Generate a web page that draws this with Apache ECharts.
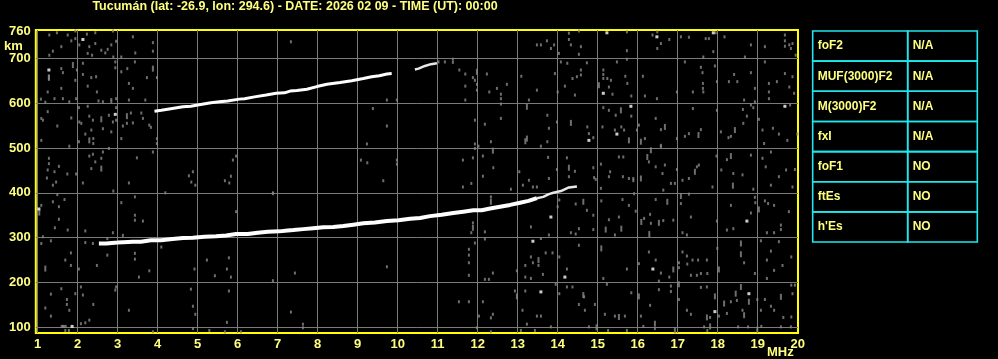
<!DOCTYPE html>
<html><head><meta charset="utf-8">
<script src="https://cdn.jsdelivr.net/npm/echarts@6/dist/echarts.min.js"></script>
<style>html,body{margin:0;padding:0;background:#000;}#c{width:998px;height:359px;}</style>
</head><body><div id="c"></div>
<script>
const titleText = 'Tucumán (lat: -26.9, lon: 294.6) - DATE: 2026 02 09 - TIME (UT): 00:00';
const freqTicks = [1,2,3,4,5,6,7,8,9,10,11,12,13,14,15,16,17,18,19,20];
const freqGrid = [1,2,3,4,5,6,7,8,9,10,11,12,13,14,15,16,17,18,19];
const heightTicks = [100,200,300,400,500,600,700,760];
const heightGrid = [100,200,300,400,500,600,700];
const tableNames = ['foF2','MUF(3000)F2','M(3000)F2','fxI','foF1','ftEs',"h'Es"];
const tableValues = ['N/A','N/A','N/A','N/A','NO','NO','NO'];

const lowerTrace = [[2.53,287],[2.71,287],[3.0,289],[3.14,290],[3.38,291],[3.58,291],[3.83,294],[4.08,294],[4.37,297],[4.63,299],[4.88,300],[5.17,302],[5.46,303],[5.71,305],[5.96,308],[6.25,308],[6.5,311],[6.75,313],[7.04,314],[7.25,316],[7.39,317],[7.64,319],[7.89,321],[8.14,323],[8.39,324],[8.64,326],[8.89,329],[9.14,332],[9.43,334],[9.73,337],[10.02,339],[10.31,342],[10.56,344],[10.81,348],[11.1,351],[11.39,355],[11.64,358],[11.89,361],[12.1,361],[12.31,365],[12.56,369],[12.81,373],[13.06,378],[13.27,382],[13.48,388]];
const lowerTail = [[13.48,388],[13.64,391],[13.78,397],[13.89,400],[14.08,404],[14.28,412],[14.48,414]];
const upperTraceA = [[3.92,582],[4.09,584],[4.29,587],[4.63,592],[4.83,593],[5.0,596],[5.33,601],[5.54,603],[5.75,605],[6.04,609],[6.17,610],[6.42,614],[6.71,618],[6.96,622],[7.17,623],[7.31,627],[7.48,628],[7.73,631],[7.98,637],[8.23,642],[8.56,646],[8.85,650],[9.14,655],[9.35,659],[9.54,661],[9.73,665],[9.85,666]];
const upperTraceB = [[10.43,675],[10.52,677],[10.68,683],[10.83,687],[10.98,689]];

const whiteDots = [[2.13,742],[1.28,674],[2.94,575],[1.03,364],[1.86,102],[13.83,346],[14.18,212],[14.78,517],[15.14,622],[15.48,531],[15.23,757],[15.83,593],[16.48,748],[17.89,757],[16.38,230],[18.73,337],[17.93,135],[18.78,175],[19.68,593],[13.38,292],[13.58,179]];

const noise = [
[1.29,752],[1.48,757],[1.75,752],[1.94,761],[2.23,754],[2.44,757],[1.59,726],[1.84,739],[1.38,716],[1.29,707],[1.94,744],[2.29,726],[2.44,733],[2.59,718],[2.75,720],[2.84,730],[2.89,703],[2.36,707],[2.25,711],[2.96,738],[2.88,761],[3.38,748],[3.88,735],[3.88,716],[3.44,712],[3.09,703],[2.69,712],[2.04,730],
[1.59,677],[1.63,668],[2.13,689],[2.13,664],[1.94,651],[1.98,674],[1.59,633],[1.25,625],[1.08,609],[1.19,602],[1.42,610],[1.63,610],[1.79,603],[1.96,610],[2.25,638],[2.34,657],[2.46,659],[2.48,625],[2.52,605],[2.63,603],[2.84,608],[2.94,692],[2.94,679],[3.09,670],[3.24,677],[3.43,692],[3.28,644],[3.38,633],[3.73,657],[3.98,657],[3.28,607],[3.69,607],[2.96,610],[2.84,603],
[1.09,566],[1.13,562],[1.25,581],[1.49,549],[1.84,567],[2.04,558],[2.09,555],[2.03,590],[2.25,593],[2.29,571],[2.38,562],[2.34,540],[2.63,543],[2.19,531],[2.39,521],[2.39,510],[1.09,517],[1.79,504],[2.03,514],[2.78,573],[2.84,536],[2.88,558],[2.96,590],[2.96,562],[3.09,521],[3.13,549],[3.33,578],[3.23,555],[3.38,556],[3.59,578],[3.63,566],[3.79,551],[3.83,546],[3.98,521],[3.98,510],[2.78,499],
[1.28,477],[1.28,465],[1.53,459],[1.25,451],[1.23,433],[1.46,424],[1.38,417],[1.42,447],[1.74,442],[1.96,442],[2.13,422],[2.29,482],[2.38,486],[2.59,477],[2.34,454],[2.44,469],[2.63,491],[2.89,404],[3.28,422],[3.48,478],[3.88,491],[4.19,400],[4.78,438],[4.88,447],[4.84,424],[4.94,417],[5.68,427],[5.79,422],[5.83,437],[5.88,473],[5.96,482],[6.88,400],
[1.09,372],[1.38,380],[1.49,396],[1.67,385],[1.53,369],[1.53,341],[1.43,322],[1.75,317],[1.13,302],[2.19,315],[3.09,378],[3.43,391],[3.43,350],[3.43,339],[3.63,337],[2.88,311],[3.13,305],[5.96,358],[6.88,398],[2.19,289],[2.38,287],
[1.09,287],[1.33,293],[1.83,266],[1.69,250],[1.83,238],[2.03,230],[2.48,238],[2.74,261],[2.74,298],[3.43,265],[3.43,252],[3.53,212],[3.79,226],[4.09,279],[4.92,230],[5.23,250],[5.43,215],[5.73,230],[5.78,255],[5.83,212],[6.88,204],
[1.33,174],[1.59,186],[1.73,162],[1.73,151],[1.94,175],[2.13,172],[2.08,190],[2.39,151],[2.96,190],[2.94,183],[1.19,143],[1.33,125],[1.79,138],[2.08,108],[2.19,110],[2.29,116],[1.6,102],[1.63,102],[1.66,102],[1.7,102],[1.69,93],[1.78,93],[3.28,138],[4.83,185],[4.88,147],[4.94,129],[4.88,97],[3.88,90],[5.29,93],[5.68,90],[5.73,111],[5.78,181],[6.08,90],
[7.33,737],[13.48,730],[13.58,730],[11.02,692],[11.18,692],[11.38,698],[11.38,691],[11.54,674],[11.69,665],[11.88,657],[11.93,651],[11.98,642],[11.69,638],[12.23,665],[12.29,625],[11.98,629],[12.48,633],[12.58,620],[12.58,610],[12.73,642],[13.09,660],[13.48,629],[11.69,607],[9.73,607],[9.98,607],[9.38,588],[9.73,549],[11.93,562],[12.18,553],[12.58,598],[12.58,566],[13.28,607],[13.58,504],[9.23,509],[11.93,509],[12.02,504],[11.93,499],[12.33,514],[12.13,482],[11.88,478],[11.63,473],[9.08,473],[9.24,467],[9.98,473],[9.98,464],[9.64,427],[12.39,456],[12.13,437],[11.84,421],[11.63,413],[12.83,408],[13.04,447],[13.13,417],[13.28,428],[13.38,413],[13.48,413],[12.33,391],[11.88,333],[11.84,311],[12.18,313],[11.93,288],[11.78,274],[11.78,261],[11.78,244],[11.78,216],[12.18,297],[13.33,324],[13.58,298],[13.33,257],[13.19,238],[13.52,238],[13.38,244],[12.98,226],[12.38,221],[12.18,207],[12.28,207],[13.19,212],[13.33,209],[13.63,218],[9.73,235],[7.43,221],[12.93,181],[13.19,181],[11.53,157],[11.78,157],[12.13,157],[13.12,138],[12.03,125],[12.38,129],[12.33,121],[13.48,125],[13.58,125],[13.23,107],[13.08,93],[13.43,93],[12.33,90],[7.63,107],[7.63,99],[7.33,134],[11.98,99],
[13.73,739],[13.83,722],[13.91,730],[14.03,711],[14.28,756],[14.28,742],[14.33,730],[14.53,761],[14.58,726],[14.53,709],[15.73,759],[15.73,717],[16.37,752],[16.49,759],[16.58,733],[16.79,742],[16.49,722],[17.08,748],[17.28,747],[17.7,744],[17.78,744],[17.95,757],[17.89,715],[18.17,748],[17.64,703],[18.83,730],[18.68,703],[19.18,726],[19.68,752],[19.68,739],[19.68,727],[19.79,730],[19.87,733],[19.83,722],[19.95,707],
[13.93,666],[14.08,692],[14.24,689],[14.37,655],[14.48,659],[14.58,674],[14.58,663],[14.73,690],[14.18,638],[14.43,618],[14.0,625],[15.14,674],[15.14,664],[15.14,655],[15.24,655],[15.33,651],[15.37,620],[15.28,636],[15.48,692],[15.73,698],[15.69,660],[15.74,644],[15.84,616],[16.13,660],[16.18,616],[16.48,610],[16.98,625],[17.18,692],[17.38,625],[17.58,680],[17.62,668],[17.63,644],[17.63,633],[17.64,625],[17.93,683],[17.98,648],[18.28,648],[18.41,664],[18.49,648],[18.83,668],[18.93,633],[19.18,692],[19.28,644],[19.28,625],[19.48,648],[19.68,666],[19.79,636],[19.87,659],[19.91,622],[18.66,607],[18.93,603],[19.28,610],
[13.74,573],[13.78,544],[13.98,558],[14.74,547],[14.78,532],[14.89,523],[15.12,547],[15.14,590],[15.28,584],[15.45,573],[15.59,547],[15.43,540],[15.66,540],[15.84,571],[15.98,540],[16.03,551],[16.18,521],[16.45,566],[16.58,541],[16.58,506],[16.98,521],[17.18,526],[17.28,532],[17.38,588],[17.58,541],[17.98,584],[18.08,536],[18.27,523],[18.33,526],[18.63,586],[18.64,555],[18.73,571],[18.83,596],[18.89,590],[19.03,564],[19.12,540],[19.16,510],[19.38,544],[19.53,531],[19.74,517],[19.81,596],[19.99,531],[13.74,514],
[13.76,479],[13.78,432],[13.98,452],[14.23,478],[14.28,436],[14.43,448],[14.89,456],[14.95,430],[15.08,464],[15.08,410],[15.31,447],[15.28,436],[15.53,480],[15.64,480],[15.63,436],[15.78,432],[15.89,432],[15.89,427],[16.28,469],[16.45,458],[16.58,503],[16.62,443],[16.68,462],[16.64,406],[16.83,421],[16.93,421],[16.98,452],[17.12,428],[17.28,432],[17.48,458],[17.53,462],[17.87,413],[17.97,482],[18.09,451],[18.23,474],[18.39,443],[18.62,440],[18.83,484],[18.89,408],[19.12,477],[19.2,458],[19.33,491],[19.53,436],[19.33,417],[19.71,451],[19.93,452],[19.87,413],[14.91,434],
[14.0,369],[14.04,384],[14.45,375],[14.73,361],[14.89,350],[14.89,318],[14.33,311],[14.45,308],[14.53,320],[13.78,306],[15.09,382],[15.28,340],[15.43,306],[15.53,346],[15.62,385],[15.78,372],[15.91,398],[15.95,359],[16.16,343],[16.31,352],[16.33,332],[16.45,385],[16.64,338],[16.89,339],[17.08,376],[17.28,397],[17.33,346],[17.12,311],[17.23,306],[17.98,337],[18.23,317],[18.33,372],[18.39,320],[18.83,355],[18.93,390],[18.94,378],[19.18,382],[19.26,376],[19.41,372],[19.58,328],[19.58,318],[19.23,311],[19.41,311],[19.78,358],
[13.7,266],[13.87,266],[14.04,257],[14.23,230],[14.53,283],[15.14,209],[15.73,230],[16.03,242],[16.28,268],[16.45,250],[16.53,203],[16.58,221],[16.79,212],[17.03,244],[17.03,233],[17.12,268],[17.23,259],[17.24,241],[17.33,216],[17.37,250],[17.48,216],[17.51,250],[17.58,220],[17.74,220],[17.73,250],[17.99,276],[18.66,244],[18.93,220],[19.08,293],[19.23,250],[19.23,209],[19.33,270],[19.41,227],[19.53,291],[19.62,238],[19.84,257],
[13.95,196],[14.04,175],[14.23,190],[14.37,190],[14.68,138],[14.53,151],[14.93,151],[15.18,129],[15.23,196],[15.43,125],[15.68,125],[15.84,177],[16.08,125],[16.31,149],[16.53,184],[16.83,180],[16.83,192],[17.03,162],[17.23,138],[17.33,129],[17.58,189],[17.73,190],[17.81,122],[18.03,125],[18.23,131],[18.33,157],[18.48,160],[18.62,138],[18.99,162],[19.08,138],[19.18,162],[19.33,147],[19.41,138],[19.64,122],[19.84,194],[19.93,194],[19.87,175],[19.84,123],[14.66,168],[14.78,101],[15.26,93],[15.73,93],[16.14,102],[16.43,97],[17.66,101],[17.74,93],[18.51,101],[18.76,101],[19.09,102],[19.58,101],[19.83,101],[13.83,101]
];
const noiseTall = [[1.28,657],[1.88,685],[2.59,564],[2.29,517],[3.23,571],[3.88,677],[2.59,454],[1.19,231],[1.04,356],[1.28,657],
[11.98,670],[13.23,592],[13.19,515],[12.38,494],[12.33,380],[11.88,322],[13.52,250],[12.98,169],[13.23,521],
[15.03,640],[14.33,556],[15.58,584],[15.78,517],[16.08,514],[16.68,547],[17.52,529],[18.43,540],[14.28,456],[16.08,432],[16.24,480],[16.33,495],[17.43,447],[18.33,482],[18.38,416],[14.64,380],[15.2,318],[15.59,320],[16.09,335],[16.29,308],[16.53,333],[16.74,380],[17.08,393],[19.03,363],[15.09,276],[16.89,229],[18.03,229],[18.58,287],[18.58,263],[14.64,172],[15.53,123],[16.03,169],[16.43,108],[17.03,196],[17.73,122],[17.93,169],[18.16,153],[18.45,175],[18.58,190],[18.66,127],[18.78,157],[19.58,168],[14.97,100],[16.93,93],[17.81,102],[18.99,95]];

const TXT = '#ffff7f';
const FONT = 'Liberation Sans';
const chart = echarts.init(document.getElementById('c'), null, {renderer: 'canvas'});

const graphics = [];
const tblX0 = 812.7, tblX1 = 907.7, tblX2 = 977.3, tblY0 = 31, rowH = 30.15;
tableNames.forEach((n, i) => {
  const y = tblY0 + i * rowH;
  graphics.push({type: 'rect', shape: {x: tblX0, y: y, width: tblX1 - tblX0, height: rowH}, style: {fill: 'none', stroke: '#1ee6ec', lineWidth: 1.6}});
  graphics.push({type: 'rect', shape: {x: tblX1, y: y, width: tblX2 - tblX1, height: rowH}, style: {fill: 'none', stroke: '#1ee6ec', lineWidth: 1.6}});
  graphics.push({type: 'text', x: tblX0 + 5, y: y + rowH / 2, style: {text: n, fill: TXT, font: 'bold 12px ' + FONT, verticalAlign: 'middle'}});
  graphics.push({type: 'text', x: tblX1 + 5, y: y + rowH / 2, style: {text: tableValues[i], fill: TXT, font: 'bold 12px ' + FONT, verticalAlign: 'middle'}});
});
graphics.push({type: 'text', x: 4, y: 46, style: {text: 'km', fill: TXT, font: 'bold 13px ' + FONT, verticalAlign: 'middle'}});
graphics.push({type: 'text', x: 767, y: 352, style: {text: 'MHz', fill: TXT, font: 'bold 13px ' + FONT, verticalAlign: 'middle'}});
graphics.push({type: 'text', x: 295, y: 7, style: {text: titleText, fill: TXT, font: 'bold 12.5px ' + FONT, align: 'center', verticalAlign: 'middle'}});

const labelStyle = {color: TXT, fontFamily: FONT, fontWeight: 'bold', fontSize: 13};

chart.setOption({
  animation: false,
  backgroundColor: '#000',
  grid: {left: 35.8, right: 200, top: 30, bottom: 26, show: true, borderColor: '#ffff00', borderWidth: 2, backgroundColor: 'transparent'},
  xAxis: {type: 'value', min: 0.9525, max: 20.0075,
    axisLine: {show: false}, axisTick: {show: false, customValues: freqGrid},
    axisLabel: Object.assign({customValues: freqTicks, margin: 5, formatter: v => String(Math.round(v))}, labelStyle),
    splitLine: {show: true, lineStyle: {color: '#7a7a7a', width: 1}}},
  yAxis: [
    {type: 'value', min: 87.3, max: 763.2, axisLine: {show: false}, axisTick: {show: false},
     axisLabel: Object.assign({customValues: heightTicks, margin: 5}, labelStyle),
     splitLine: {show: false}},
    {type: 'value', min: 87.3, max: 763.2, position: 'left', axisLine: {show: false},
     axisTick: {show: false, customValues: heightGrid}, axisLabel: {show: false},
     splitLine: {show: true, lineStyle: {color: '#7a7a7a', width: 1}}}
  ],
  graphic: graphics,
  series: [
    {type: 'scatter', data: noise, symbol: 'rect', symbolSize: [2, 3], itemStyle: {color: '#8a8a8a'}, silent: true},
    {type: 'scatter', data: noiseTall, symbol: 'rect', symbolSize: [2, 6], itemStyle: {color: '#8a8a8a'}, silent: true},
    {type: 'scatter', data: whiteDots, symbol: 'rect', symbolSize: [3, 3], itemStyle: {color: '#ffffff'}, silent: true},
    {type: 'line', data: lowerTrace, symbol: 'none', lineStyle: {color: '#fff', width: 4}, silent: true},
    {type: 'line', data: lowerTail, symbol: 'none', lineStyle: {color: '#e8e8e8', width: 2.5}, silent: true},
    {type: 'line', data: upperTraceA, symbol: 'none', lineStyle: {color: '#fff', width: 3}, silent: true},
    {type: 'line', data: upperTraceB, symbol: 'none', lineStyle: {color: '#e8e8e8', width: 2.5}, silent: true}
  ]
});
</script>
</body></html>
